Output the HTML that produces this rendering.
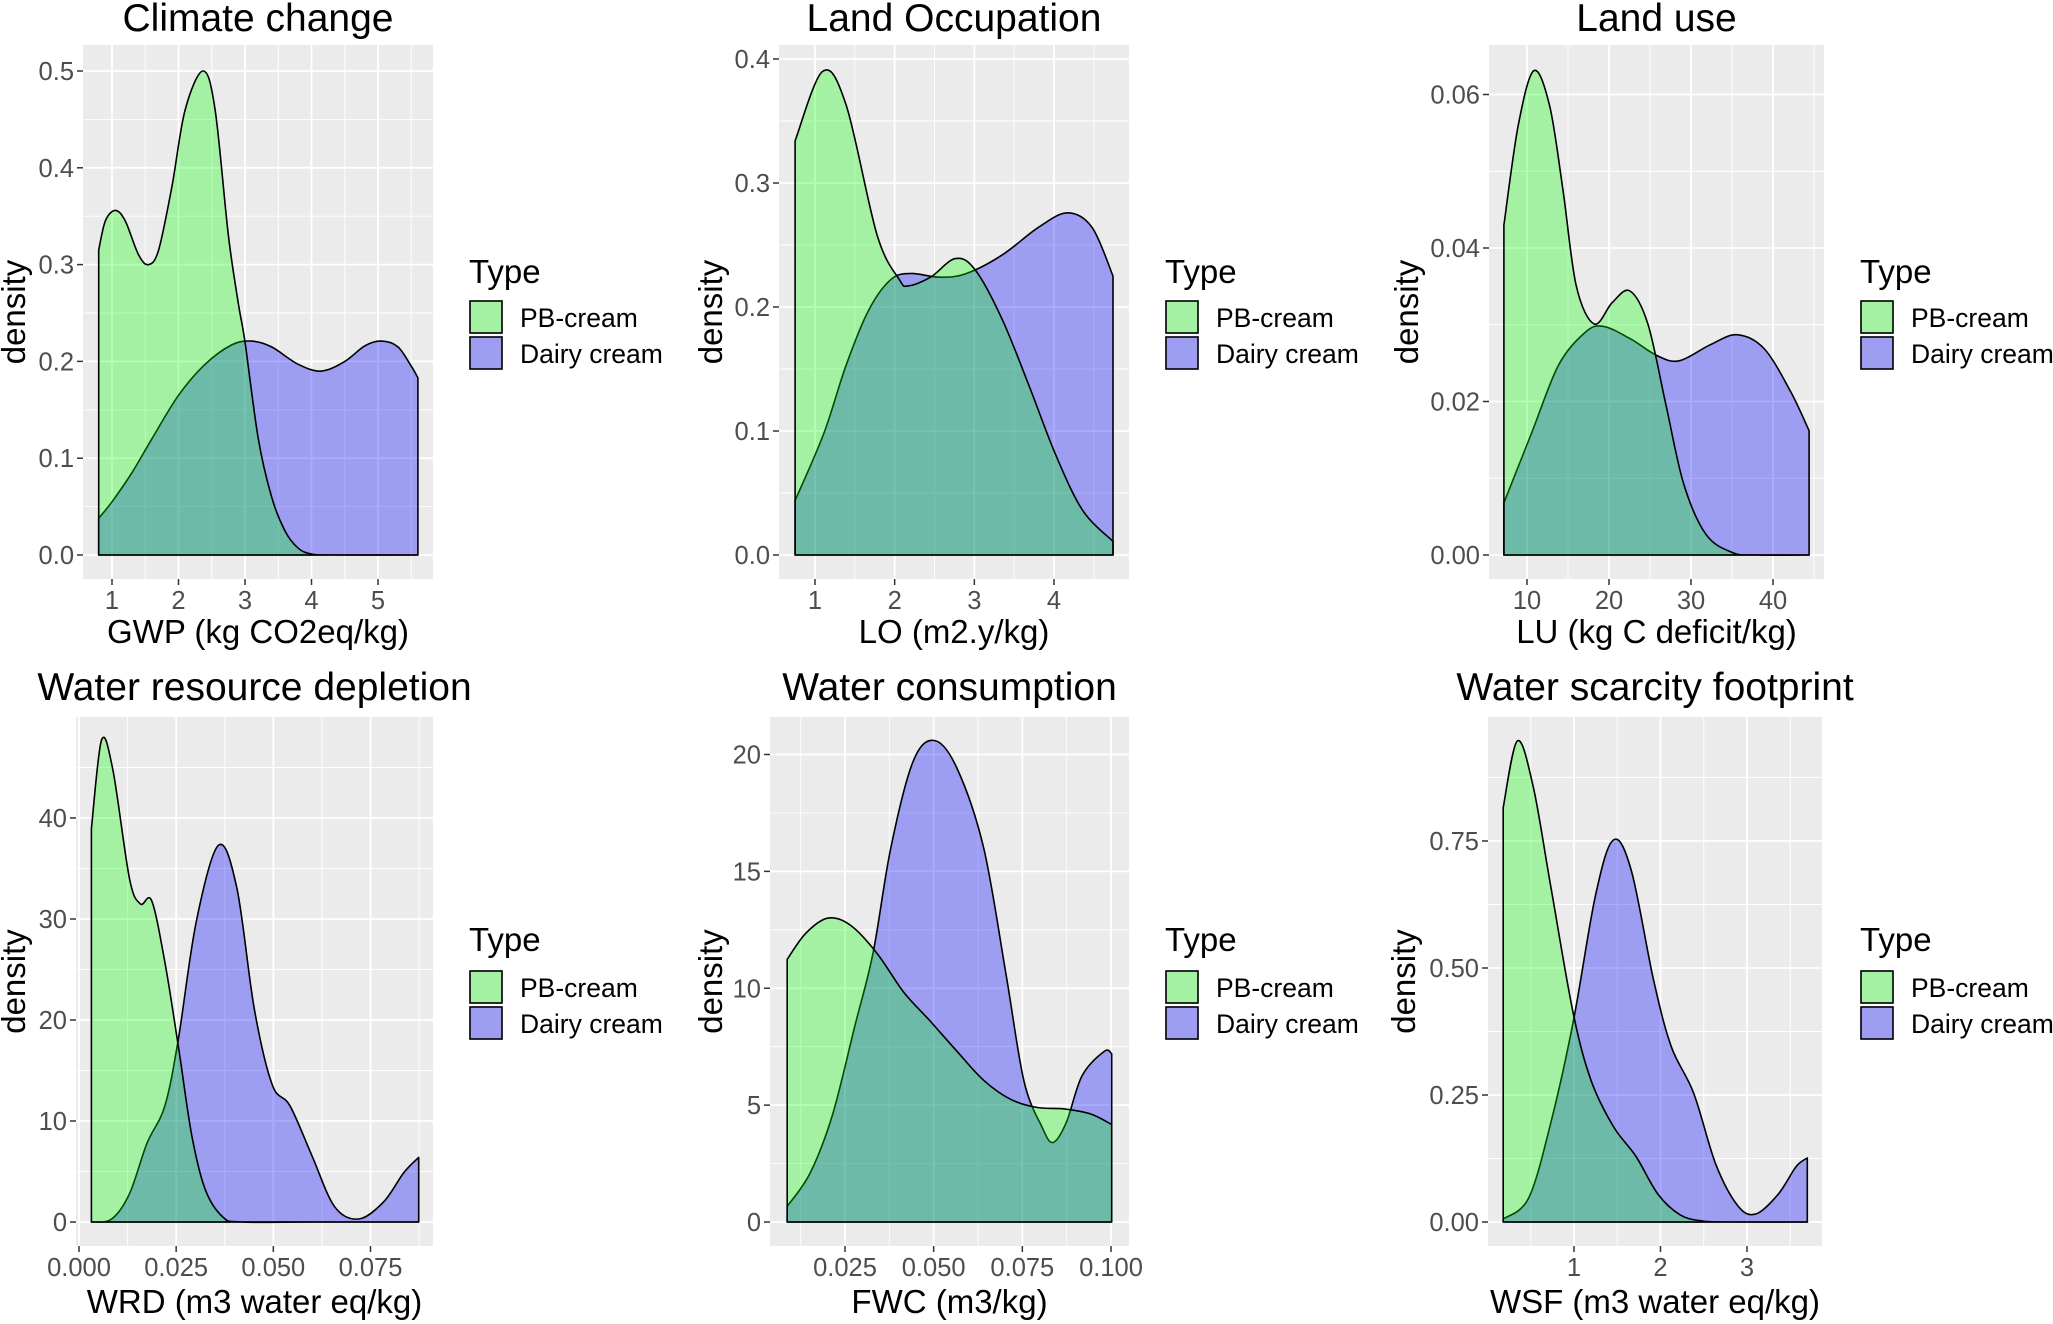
<!DOCTYPE html>
<html><head><meta charset="utf-8"><style>
html,body{margin:0;padding:0;background:#fff}
svg{display:block}
text{font-family:"Liberation Sans",Arial,sans-serif}
</style></head><body>
<svg id="chart" width="2053" height="1324" viewBox="0 0 2053 1324" xmlns="http://www.w3.org/2000/svg"></svg>
<script>
// ---- data ----
const titles = ["Climate change","Land Occupation","Land use","Water resource depletion","Water consumption","Water scarcity footprint"];
const xTitles = ["GWP (kg CO2eq/kg)","LO (m2.y/kg)","LU (kg C deficit/kg)","WRD (m3 water eq/kg)","FWC (m3/kg)","WSF (m3 water eq/kg)"];
const seriesNames = ["PB-cream","Dairy cream"];

const xTicks1 = [1,2,3,4,5];            const xTickLabels1 = ["1","2","3","4","5"];
const yTicks1 = [0,0.1,0.2,0.3,0.4,0.5]; const yTickLabels1 = ["0.0","0.1","0.2","0.3","0.4","0.5"];
const xTicks2 = [1,2,3,4];              const xTickLabels2 = ["1","2","3","4"];
const yTicks2 = [0,0.1,0.2,0.3,0.4];    const yTickLabels2 = ["0.0","0.1","0.2","0.3","0.4"];
const xTicks3 = [10,20,30,40];          const xTickLabels3 = ["10","20","30","40"];
const yTicks3 = [0,0.02,0.04,0.06];     const yTickLabels3 = ["0.00","0.02","0.04","0.06"];
const xTicks4 = [0,0.025,0.05,0.075];   const xTickLabels4 = ["0.000","0.025","0.050","0.075"];
const yTicks4 = [0,10,20,30,40];        const yTickLabels4 = ["0","10","20","30","40"];
const xTicks5 = [0.025,0.05,0.075,0.1]; const xTickLabels5 = ["0.025","0.050","0.075","0.100"];
const yTicks5 = [0,5,10,15,20];         const yTickLabels5 = ["0","5","10","15","20"];
const xTicks6 = [1,2,3];                const xTickLabels6 = ["1","2","3"];
const yTicks6 = [0,0.25,0.5,0.75];      const yTickLabels6 = ["0.00","0.25","0.50","0.75"];

// Climate change
const gwpPbX = [0.8,0.9,1.05,1.2,1.4,1.55,1.7,1.9,2.1,2.37,2.55,2.75,2.9,3.0,3.2,3.4,3.6,3.8,4.0,4.3,5.6];
const gwpPbY = [0.315,0.345,0.356,0.345,0.31,0.30,0.315,0.38,0.46,0.50,0.46,0.33,0.26,0.22,0.12,0.06,0.025,0.007,0.001,0,0];
const gwpDaX = [0.8,1.0,1.3,1.6,2.0,2.4,2.8,3.1,3.4,3.8,4.15,4.5,4.8,5.05,5.3,5.5,5.6];
const gwpDaY = [0.038,0.055,0.085,0.12,0.165,0.197,0.217,0.221,0.215,0.197,0.19,0.2,0.216,0.221,0.215,0.195,0.183];
// Land occupation
const loPbX = [0.75,1.095,1.39,1.78,2.06,2.17,2.45,2.76,3.01,3.35,3.69,4.02,4.36,4.74];
const loPbY = [0.334,0.39,0.363,0.258,0.222,0.217,0.224,0.239,0.23,0.19,0.136,0.081,0.036,0.011];
const loDaX = [0.75,1.11,1.39,1.67,1.95,2.2,2.57,2.9,3.35,3.8,4.17,4.48,4.74];
const loDaY = [0.044,0.098,0.153,0.197,0.222,0.227,0.224,0.227,0.242,0.264,0.276,0.264,0.225];
// Land use
const luPbX = [7.18,8.92,10.83,12.74,14.37,16.0,18.2,20.4,22.56,24.74,26.92,29.1,31.82,35.1,38,44.4];
const luPbY = [0.043,0.0559,0.0631,0.0586,0.0477,0.0351,0.0301,0.0329,0.0344,0.0301,0.0197,0.0093,0.0027,0.0003,0,0];
const luDaX = [7.18,10.56,13.83,17.1,19.27,22.56,25.83,28.55,32.36,35.6,38.9,42.1,44.4];
const luDaY = [0.0068,0.0159,0.0247,0.029,0.0298,0.0282,0.026,0.0253,0.0274,0.0287,0.0269,0.0214,0.0162];
// Water resource depletion
const wrdPbX = [0.0032,0.0058,0.0087,0.013,0.0158,0.0187,0.0221,0.0256,0.029,0.0325,0.037,0.0417,0.06,0.0874];
const wrdPbY = [38.96,47.7,44.8,34.0,31.5,31.8,25.7,17.3,8.6,3.2,0.5,0,0,0];
const wrdDaX = [0.0032,0.0084,0.013,0.0175,0.0221,0.0256,0.0302,0.0359,0.0406,0.0451,0.0497,0.0543,0.06,0.0658,0.072,0.0784,0.0836,0.0874];
const wrdDaY = [0,0.3,2.8,7.8,11.5,18.2,29.8,37.3,33.1,21.1,13.6,11.5,6.5,1.5,0.3,2.0,4.9,6.4];
// Water consumption
const fwcPbX = [0.0087,0.014,0.0202,0.0265,0.034,0.0415,0.049,0.0566,0.0641,0.0717,0.0792,0.0868,0.0943,0.1002];
const fwcPbY = [11.24,12.36,13.0,12.7,11.5,9.84,8.6,7.3,6.06,5.25,4.9,4.84,4.62,4.17];
const fwcDaX = [0.0087,0.0152,0.0215,0.0278,0.0329,0.0379,0.0442,0.0502,0.0566,0.0641,0.0704,0.0754,0.0805,0.0836,0.0874,0.0918,0.0981,0.1002];
const fwcDaY = [0.67,2.1,4.6,8.4,11.5,16.0,19.7,20.6,19.4,16.0,10.6,6.06,4.08,3.4,4.26,6.24,7.3,7.2];
// Water scarcity footprint
const wsfPbX = [0.181,0.346,0.527,0.733,0.991,1.197,1.455,1.713,1.97,2.228,2.486,2.8,3.7];
const wsfPbY = [0.816,0.947,0.858,0.659,0.411,0.279,0.188,0.13,0.055,0.014,0.002,0,0];
const wsfDaX = [0.181,0.475,0.733,0.991,1.249,1.455,1.662,1.919,2.125,2.383,2.641,2.898,3.105,3.362,3.568,3.697];
const wsfDaY = [0.006,0.047,0.196,0.394,0.643,0.752,0.692,0.477,0.345,0.254,0.113,0.031,0.016,0.055,0.109,0.126];

// ---- layout (pixels) ----
const R1 = {top:45,bot:579,y0:555,tickLbl:609,axTitle:643,title:31,legT:283,key1:300,key2:336};
const R2 = {top:717,bot:1246,y0:1222,tickLbl:1276,axTitle:1313,title:700,legT:951,key1:970,key2:1006};
const panels = [
 {row:R1,l:83,r:433,xa:[1,112],xb:[5,378],yb:[0.5,71],yl:14,leg:469,pb:[gwpPbX,gwpPbY],da:[gwpDaX,gwpDaY],xt:xTicks1,xtl:xTickLabels1,yt:yTicks1,ytl:yTickLabels1},
 {row:R1,l:779,r:1129,xa:[1,815],xb:[4,1054],yb:[0.4,59],yl:711,leg:1165,pb:[loPbX,loPbY],da:[loDaX,loDaY],xt:xTicks2,xtl:xTickLabels2,yt:yTicks2,ytl:yTickLabels2},
 {row:R1,l:1489,r:1824,xa:[10,1527],xb:[40,1773],yb:[0.06,94.5],yl:1407,leg:1860,pb:[luPbX,luPbY],da:[luDaX,luDaY],xt:xTicks3,xtl:xTickLabels3,yt:yTicks3,ytl:yTickLabels3},
 {row:R2,l:76,r:433,xa:[0,79],xb:[0.075,370.5],yb:[40,818],yl:14,leg:469,pb:[wrdPbX,wrdPbY],da:[wrdDaX,wrdDaY],xt:xTicks4,xtl:xTickLabels4,yt:yTicks4,ytl:yTickLabels4},
 {row:R2,l:770,r:1129,xa:[0.025,845],xb:[0.1,1111],yb:[20,754.5],yl:711,leg:1165,pb:[fwcPbX,fwcPbY],da:[fwcDaX,fwcDaY],xt:xTicks5,xtl:xTickLabels5,yt:yTicks5,ytl:yTickLabels5},
 {row:R2,l:1488,r:1822,xa:[1,1574],xb:[3,1747],yb:[0.75,841],yl:1404,leg:1860,pb:[wsfPbX,wsfPbY],da:[wsfDaX,wsfDaY],xt:xTicks6,xtl:xTickLabels6,yt:yTicks6,ytl:yTickLabels6}
];
const GREEN='rgba(0,255,0,0.3)', BLUE='rgba(0,0,255,0.33)';
const NS='http://www.w3.org/2000/svg';
const svg=document.getElementById('chart');
function mk(tag,attrs,parent){const e=document.createElementNS(NS,tag);for(const k in attrs)e.setAttribute(k,attrs[k]);(parent||svg).appendChild(e);return e;}
function smooth(pts){
  let d='M'+pts[0][0].toFixed(1)+','+pts[0][1].toFixed(1);
  for(let i=0;i<pts.length-1;i++){
    const p0=pts[i-1]||pts[i],p1=pts[i],p2=pts[i+1],p3=pts[i+2]||pts[i+1];
    const c1=[p1[0]+(p2[0]-p0[0])/6,p1[1]+(p2[1]-p0[1])/6];
    const c2=[p2[0]-(p3[0]-p1[0])/6,p2[1]-(p3[1]-p1[1])/6];
    d+=' C'+c1[0].toFixed(1)+','+c1[1].toFixed(1)+' '+c2[0].toFixed(1)+','+c2[1].toFixed(1)+' '+p2[0].toFixed(1)+','+p2[1].toFixed(1);
  }
  return d;
}
panels.forEach((p,i)=>{
  const row=p.row;
  const g=mk('g',{});
  
  
  const sx=v=>p.xa[1]+(v-p.xa[0])*(p.xb[1]-p.xa[1])/(p.xb[0]-p.xa[0]);
  const sy=v=>row.y0-v*(row.y0-p.yb[1])/p.yb[0];
  const bg=mk('rect',{x:p.l,y:row.top,width:p.r-p.l,height:row.bot-row.top,fill:'#EBEBEB'},g);
  
  
  const xs=p.xt[1]-p.xt[0], ys=p.yt[1]-p.yt[0];
  for(let k=-3;k<p.xt.length+3;k++){const v=p.xt[0]+(k+0.5)*xs;const X=sx(v);if(X>p.l&&X<p.r)mk('line',{x1:X,x2:X,y1:row.top,y2:row.bot,stroke:'#fff','stroke-width':0.9},g);}
  for(let k=-3;k<p.yt.length+3;k++){const v=p.yt[0]+(k+0.5)*ys;const Y=sy(v);if(Y>row.top&&Y<row.bot)mk('line',{x1:p.l,x2:p.r,y1:Y,y2:Y,stroke:'#fff','stroke-width':0.9},g);}
  p.xt.forEach((v,k)=>{const X=sx(v);
    mk('line',{x1:X,x2:X,y1:row.top,y2:row.bot,stroke:'#fff','stroke-width':1.8},g);
    mk('line',{x1:X,x2:X,y1:row.bot,y2:row.bot+6,stroke:'#333','stroke-width':1.5},g);
    const t=mk('text',{x:X,y:row.tickLbl,'font-size':25.5,fill:'#4D4D4D','text-anchor':'middle'},g);t.textContent=p.xtl[k];
    
    
  });
  p.yt.forEach((v,k)=>{const Y=sy(v);
    mk('line',{x1:p.l,x2:p.r,y1:Y,y2:Y,stroke:'#fff','stroke-width':1.8},g);
    mk('line',{x1:p.l-6,x2:p.l,y1:Y,y2:Y,stroke:'#333','stroke-width':1.5},g);
    const t=mk('text',{x:p.l-9,y:Y+9,'font-size':25.5,fill:'#4D4D4D','text-anchor':'end'},g);t.textContent=p.ytl[k];
    
    
  });
  [[p.da,BLUE,'dairy-cream-density'],[p.pb,GREEN,'pb-cream-density']].forEach(([s,col,nm])=>{
    const pts=s[0].map((x,k)=>[sx(x),sy(s[1][k])]);
    const x0=pts[0][0],x1=pts[pts.length-1][0];
    const d=smooth(pts)+' L'+x1.toFixed(1)+','+row.y0+' L'+x0.toFixed(1)+','+row.y0+' Z';
    const a=mk('path',{d:d,fill:col,stroke:'#000','stroke-width':1.6,'stroke-linejoin':'round'},g);
    
    
  });
  const cx=(p.l+p.r)/2;
  const tt=mk('text',{x:cx,y:row.title,'font-size':39,fill:'#000','text-anchor':'middle'},g);tt.textContent=titles[i];
  
  
  const xt=mk('text',{x:cx,y:row.axTitle,'font-size':33,fill:'#000','text-anchor':'middle'},g);xt.textContent=xTitles[i];
  
  
  const cy=(row.top+row.bot)/2;
  const yt=mk('text',{x:p.yl+11,y:cy,'font-size':33,fill:'#000','text-anchor':'middle',transform:'rotate(-90 '+(p.yl+11)+' '+cy+')'},g);yt.textContent='density';
  
  
  const lg=mk('g',{},g);
  
  
  const lt=mk('text',{x:p.leg,y:row.legT,'font-size':33,fill:'#000'},lg);lt.textContent='Type';
  
  
  [[row.key1,GREEN,0],[row.key2,BLUE,1]].forEach(([ky,col,k])=>{
    const e=mk('g',{},lg);
    
    
    mk('rect',{x:p.leg,y:ky,width:34,height:34,fill:'#EBEBEB'},e);
    mk('rect',{x:p.leg+1,y:ky+1,width:32,height:32,fill:col,stroke:'#000','stroke-width':1.6},e);
    const lb=mk('text',{x:p.leg+51,y:ky+27,'font-size':26.5,fill:'#000'},e);lb.textContent=seriesNames[k];
  });
});
</script>
</body></html>
